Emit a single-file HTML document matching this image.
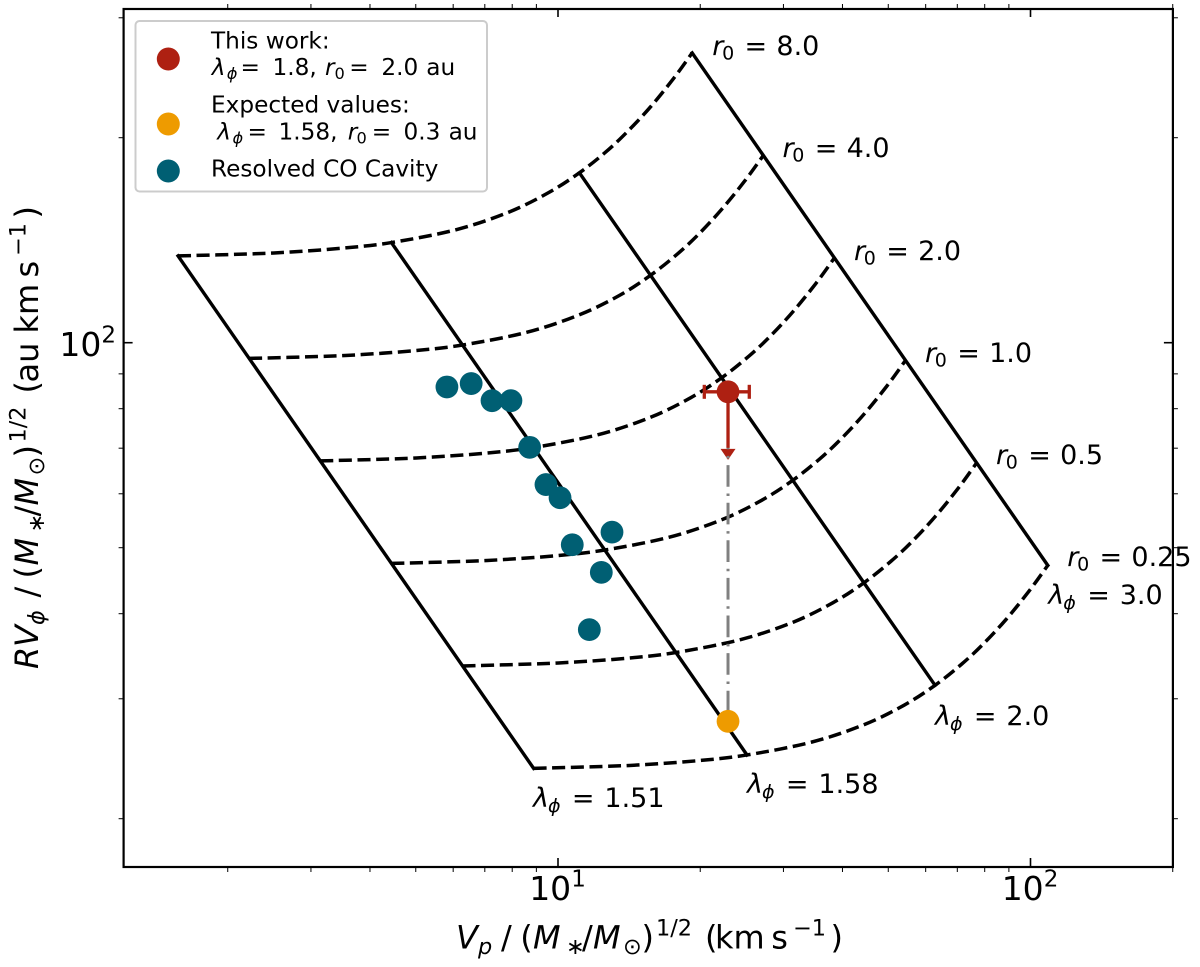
<!DOCTYPE html>
<html lang="en">
<head>
<meta charset="utf-8">
<title>Wind launching diagram</title>
<style>
html,body{margin:0;padding:0;background:#fff;}
svg{display:block;font-family:"DejaVu Sans","Liberation Sans",sans-serif;fill:#000;}
.i{font-style:italic;}
</style>
</head>
<body>
<svg id="chart" xmlns="http://www.w3.org/2000/svg" width="1200" height="967" viewBox="0 0 1200 967">
  <rect x="0" y="0" width="1200" height="967" fill="#fff"/>
  <g id="grid-curves"></g>
  <g id="grid-lines"></g>
  <g id="arrow-head"></g>
  <g id="link-line"></g>
  <g id="points"></g>

  <g font-size="27">
    <text y="55"><tspan class="i" x="712.3">r</tspan><tspan x="722.1" y="59.5" font-size="19">0</tspan><tspan x="744.5" y="55">=</tspan><tspan x="776.4">8.0</tspan></text>
    <text y="157"><tspan class="i" x="782.5">r</tspan><tspan x="792.3" y="161.5" font-size="19">0</tspan><tspan x="814.7" y="157">=</tspan><tspan x="846.6">4.0</tspan></text>
    <text y="260"><tspan class="i" x="854">r</tspan><tspan x="863.8" y="264.5" font-size="19">0</tspan><tspan x="886.2" y="260">=</tspan><tspan x="918.1">2.0</tspan></text>
    <text y="362"><tspan class="i" x="925">r</tspan><tspan x="934.8" y="366.5" font-size="19">0</tspan><tspan x="957.2" y="362">=</tspan><tspan x="989.1">1.0</tspan></text>
    <text y="464"><tspan class="i" x="996">r</tspan><tspan x="1005.8" y="468.5" font-size="19">0</tspan><tspan x="1028.2" y="464">=</tspan><tspan x="1060.1">0.5</tspan></text>
    <text y="566"><tspan class="i" x="1067.3">r</tspan><tspan x="1077.1" y="570.5" font-size="19">0</tspan><tspan x="1099.5" y="566">=</tspan><tspan x="1131.4">0.25</tspan></text>
    <text y="604"><tspan class="i" x="1048.3">λ</tspan><tspan class="i" x="1063.3" y="609" font-size="19">ϕ</tspan><tspan x="1087.2" y="604">=</tspan><tspan x="1119.7">3.0</tspan></text>
    <text y="725"><tspan class="i" x="935">λ</tspan><tspan class="i" x="950" y="730" font-size="19">ϕ</tspan><tspan x="973.9" y="725">=</tspan><tspan x="1006.4">2.0</tspan></text>
    <text y="793"><tspan class="i" x="747">λ</tspan><tspan class="i" x="762" y="798" font-size="19">ϕ</tspan><tspan x="785.9" y="793">=</tspan><tspan x="818.4">1.58</tspan></text>
    <text y="807"><tspan class="i" x="533">λ</tspan><tspan class="i" x="548" y="812" font-size="19">ϕ</tspan><tspan x="571.9" y="807">=</tspan><tspan x="604.4">1.51</tspan></text>
  </g>

  <g id="axes"></g>
  <rect x="123.6" y="9" width="1049.3" height="858" fill="none" stroke="#000" stroke-width="2.2"/>

  <text font-size="32" y="948.3"><tspan class="i" x="456">V</tspan><tspan class="i" x="478" y="954" font-size="22.4">p</tspan><tspan x="501" y="948.3">/</tspan><tspan x="520.3">(</tspan><tspan class="i" x="533">M</tspan><tspan x="566" y="954" font-size="22.4">∗</tspan><tspan x="582" y="948.3">/</tspan><tspan class="i" x="593">M</tspan><tspan x="623" y="954" font-size="22.4">⊙</tspan><tspan x="641.5" y="948.3">)</tspan><tspan x="656" y="935.7" font-size="22.4">1/2</tspan><tspan x="705" y="948.3">(</tspan><tspan x="715">km</tspan><tspan x="771.3">s</tspan><tspan x="793" y="935.7" font-size="22.4">−1</tspan><tspan x="830.5" y="948.3">)</tspan></text>
  <text font-size="32" transform="translate(38,669) rotate(-90)" y="0"><tspan class="i" x="0">R</tspan><tspan class="i" x="22">V</tspan><tspan class="i" x="44" y="6" font-size="22.4">ϕ</tspan><tspan x="71.5" y="0">/</tspan><tspan x="90.5">(</tspan><tspan class="i" x="103.5">M</tspan><tspan x="136.5" y="6" font-size="22.4">∗</tspan><tspan x="152.5" y="0">/</tspan><tspan class="i" x="163.5">M</tspan><tspan x="193.5" y="6" font-size="22.4">⊙</tspan><tspan x="211.5" y="0">)</tspan><tspan x="226.5" y="-12.6" font-size="22.4">1/2</tspan><tspan x="275.5" y="0">(</tspan><tspan x="286.5">au</tspan><tspan x="335.5">km</tspan><tspan x="391.5">s</tspan><tspan x="413" y="-12.6" font-size="22.4">−1</tspan><tspan x="450.5" y="0">)</tspan></text>

  <g>
    <rect x="135.5" y="21" width="351.5" height="170.5" rx="4" ry="4" fill="#fff" fill-opacity="0.8" stroke="#ccc" stroke-width="2"/>
    <circle cx="168.3" cy="59" r="11.5" fill="#ae2012"/>
    <circle cx="168.3" cy="124" r="11.5" fill="#ee9b00"/>
    <circle cx="168.3" cy="171" r="11.5" fill="#005f73"/>
    <g font-size="23.2">
      <text x="211" y="48.3">This work:</text>
      <text y="75"><tspan class="i" x="211.7">λ</tspan><tspan class="i" x="226.7" y="79" font-size="16.2">ϕ</tspan><tspan x="240.5" y="75">=</tspan><tspan x="272.5">1.8,</tspan><tspan class="i" x="325">r</tspan><tspan x="334.5" y="79" font-size="16.2">0</tspan><tspan x="349.2" y="75">=</tspan><tspan x="381.4">2.0</tspan><tspan x="426.3">au</tspan></text>
      <text x="211" y="112.3">Expected values:</text>
      <text y="139.3"><tspan class="i" x="217.3">λ</tspan><tspan class="i" x="232.5" y="143.3" font-size="16.2">ϕ</tspan><tspan x="247.5" y="139.3">=</tspan><tspan x="278.5">1.58,</tspan><tspan class="i" x="347.7">r</tspan><tspan x="356.5" y="143.3" font-size="16.2">0</tspan><tspan x="371.8" y="139.3">=</tspan><tspan x="403.5">0.3</tspan><tspan x="448.6">au</tspan></text>
      <text x="211" y="176.7">Resolved CO Cavity</text>
    </g>
  </g>
</svg>
<script>
// ---- axis tick data ----
const xMajorTicks = [10, 100];
const xMinorTicks = [2, 3, 4, 5, 6, 7, 8, 9, 20, 30, 40, 50, 60, 70, 80, 90, 200];
const yMajorTicks = [100];
const yMinorTicks = [20, 30, 40, 50, 60, 70, 80, 90, 200, 300];
const xTickExponents = ['1', '2'];
const yTickExponents = ['2'];

// ---- dashed constant-radius curves (Vp, R*Vphi) read along lambda ----
const r025Vp = [8.88, 12.56, 15.38, 19.86, 25.12, 34.40, 44.40, 54.02, 62.80, 71.60, 79.44, 88.82, 99.30, 108.78];
const r025Rv = [23.71, 23.87, 24.02, 24.34, 24.81, 25.91, 27.48, 29.36, 31.40, 33.76, 36.11, 39.25, 43.18, 47.10];
const r05Vp = [6.28, 8.88, 10.88, 14.04, 17.76, 24.32, 31.40, 38.20, 44.41, 50.63, 56.17, 62.80, 70.22, 76.92];
const r05Rv = [33.52, 33.75, 33.97, 34.41, 35.08, 36.64, 38.85, 41.52, 44.41, 47.74, 51.07, 55.51, 61.06, 66.61];
const r1Vp = [4.44, 6.28, 7.69, 9.93, 12.56, 17.20, 22.20, 27.01, 31.40, 35.80, 39.72, 44.41, 49.65, 54.39];
const r1Rv = [47.41, 47.73, 48.04, 48.67, 49.61, 51.81, 54.95, 58.72, 62.80, 67.51, 72.22, 78.50, 86.35, 94.20];
const r2Vp = [3.14, 4.44, 5.44, 7.02, 8.88, 12.16, 15.70, 19.10, 22.20, 25.31, 28.09, 31.40, 35.11, 38.46];
const r2Rv = [67.05, 67.50, 67.94, 68.83, 70.16, 73.27, 77.71, 83.04, 88.81, 95.47, 102.1, 111.0, 122.1, 133.2];
const r4Vp = [2.22, 3.14, 3.85, 4.97, 6.28, 8.60, 11.10, 13.51, 15.70, 17.90, 19.86, 22.21, 24.83, 27.20];
const r4Rv = [94.82, 95.46, 96.08, 97.34, 99.22, 103.6, 109.9, 117.4, 125.6, 135.0, 144.4, 157.0, 172.7, 188.4];
const r8Vp = [1.57, 2.22, 2.72, 3.51, 4.44, 6.08, 7.85, 9.55, 11.10, 12.66, 14.04, 15.70, 17.55, 19.23];
const r8Rv = [134.1, 135.0, 135.9, 137.7, 140.3, 146.5, 155.4, 166.1, 177.6, 190.9, 204.3, 222.0, 244.2, 266.4];

// ---- solid constant-lambda lines (r0 = 8 end, r0 = 0.25 end) ----
const lambda151Vp = [1.57, 8.88];
const lambda151Rv = [134.1, 23.71];
const lambda158Vp = [4.44, 25.12];
const lambda158Rv = [140.3, 24.81];
const lambda200Vp = [11.10, 62.80];
const lambda200Rv = [177.6, 31.40];
const lambda300Vp = [19.23, 108.78];
const lambda300Rv = [266.4, 47.10];

// ---- resolved CO cavity sample ----
const cavityVp = [5.82, 6.55, 7.25, 7.95, 8.71, 9.43, 10.10, 13.01, 10.72, 12.35, 11.65];
const cavityRv = [86.1, 87.1, 82.2, 82.2, 70.2, 61.9, 59.2, 52.7, 50.5, 46.0, 37.9];

// ---- this work and expected values ----
const thisWorkVp = 22.9;
const thisWorkRv = 84.7;
const thisWorkVpLow = 20.4;
const thisWorkVpHigh = 25.4;
const thisWorkRvLimit = 67.3;
const expectedVp = 22.9;
const expectedRv = 27.8;

const NS = 'http://www.w3.org/2000/svg';
const xScale = v => 558 + 472.5 * (Math.log10(v) - 1);
const yScale = v => 342.7 - 681 * (Math.log10(v) - 2);
const frame = {left: 123.6, right: 1172.9, top: 9, bottom: 867};

function mk(tag, parent) {
  const el = document.createElementNS(NS, tag);
  parent.appendChild(el);
  return el;
}
function set(el, attrs) {
  for (const k in attrs) el.setAttribute(k, attrs[k]);
  return el;
}
function toPoints(xs, ys) {
  return xs.map((v, i) => xScale(v).toFixed(2) + ',' + yScale(ys[i]).toFixed(2)).join(' ');
}
// smooth path through the read points (Catmull-Rom to Bezier)
function toSmoothPath(xs, ys) {
  const p = xs.map((v, i) => [xScale(v), yScale(ys[i])]);
  let d = 'M' + p[0][0].toFixed(2) + ' ' + p[0][1].toFixed(2);
  for (let i = 0; i < p.length - 1; i++) {
    const a = p[Math.max(i - 1, 0)];
    const b = p[i];
    const c = p[i + 1];
    const e = p[Math.min(i + 2, p.length - 1)];
    const t1 = [b[0] + (c[0] - a[0]) / 6, b[1] + (c[1] - a[1]) / 6];
    const t2 = [c[0] - (e[0] - b[0]) / 6, c[1] - (e[1] - b[1]) / 6];
    d += ' C' + t1[0].toFixed(2) + ' ' + t1[1].toFixed(2) + ' ' + t2[0].toFixed(2) + ' ' + t2[1].toFixed(2) + ' ' + c[0].toFixed(2) + ' ' + c[1].toFixed(2);
  }
  return d;
}
function tickLine(x1, y1, x2, y2, w) {
  const el = mk('line', document.getElementById('axes'));
  set(el, {x1: x1, y1: y1, x2: x2, y2: y2, stroke: '#000', 'stroke-width': w});
  
  
}
function majorLabel(x, y, exponent) {
  const t = mk('text', document.getElementById('axes'));
  set(t, {x: x, y: y, 'font-size': 33});
  
  
  const a = mk('tspan', t);
  a.textContent = '10';
  const b = mk('tspan', t);
  set(b, {dy: -13.3, 'font-size': 23});
  b.textContent = exponent;
}

// axes ticks
xMajorTicks.forEach((v, i) => {
  const x = xScale(v);
  tickLine(x, frame.bottom, x, frame.bottom - 9, 1.6);
  tickLine(x, frame.top, x, frame.top + 8, 1.6);
  majorLabel(x - 28.8, 900, xTickExponents[i]);
});
xMinorTicks.forEach(v => {
  const x = xScale(v);
  tickLine(x, frame.bottom, x, frame.bottom + 5, 1);
  tickLine(x, frame.top, x, frame.top - 5, 1);
});
yMajorTicks.forEach((v, i) => {
  const y = yScale(v);
  tickLine(frame.left, y, frame.left + 9, y, 1.6);
  tickLine(frame.right, y, frame.right - 9, y, 1.6);
  majorLabel(59.4, y + 13.3, yTickExponents[i]);
});
yMinorTicks.forEach(v => {
  const y = yScale(v);
  tickLine(frame.left, y, frame.left - 5, y, 1);
  tickLine(frame.right, y, frame.right + 5, y, 1);
});

// dashed radius curves
const curveHost = document.getElementById('grid-curves');
[[r025Vp, r025Rv], [r05Vp, r05Rv], [r1Vp, r1Rv], [r2Vp, r2Rv], [r4Vp, r4Rv], [r8Vp, r8Rv]].forEach(c => {
  const el = mk('path', curveHost);
  set(el, {d: toSmoothPath(c[0], c[1]), fill: 'none', stroke: '#000', 'stroke-width': 3.5, 'stroke-dasharray': '13 5.6'});
  
  
});

// solid lambda lines
const lineHost = document.getElementById('grid-lines');
[[lambda151Vp, lambda151Rv], [lambda158Vp, lambda158Rv], [lambda200Vp, lambda200Rv], [lambda300Vp, lambda300Rv]].forEach(c => {
  const el = mk('polyline', lineHost);
  set(el, {points: toPoints(c[0], c[1]), fill: 'none', stroke: '#000', 'stroke-width': 3.4, 'stroke-linecap': 'square'});
  
  
});

// arrow head of the upper limit
const cx = xScale(thisWorkVp);
const cy = yScale(thisWorkRv);
const tip = yScale(thisWorkRvLimit);
const head = mk('polygon', document.getElementById('arrow-head'));
set(head, {points: (cx - 7.5) + ',' + (tip - 11) + ' ' + (cx + 7.5) + ',' + (tip - 11) + ' ' + cx + ',' + tip, fill: '#ae2012'});



// gray dash-dot connection
const link = mk('line', document.getElementById('link-line'));
set(link, {x1: cx, y1: cy, x2: xScale(expectedVp), y2: yScale(expectedRv), stroke: '#808080', 'stroke-width': 3, 'stroke-dasharray': '21.7 6.7 2.5 6.7', 'stroke-dashoffset': 1.9});



// data points
const pointHost = document.getElementById('points');
cavityVp.forEach((v, i) => {
  const el = mk('circle', pointHost);
  set(el, {cx: xScale(v), cy: yScale(cavityRv[i]), r: 11.4, fill: '#005f73'});
  
  
});

const stem = mk('line', pointHost);
set(stem, {x1: cx, y1: cy, x2: cx, y2: tip - 12, stroke: '#ae2012', 'stroke-width': 3.3});



const xLow = xScale(thisWorkVpLow);
const xHigh = xScale(thisWorkVpHigh);
const xErr = mk('line', pointHost);
set(xErr, {x1: xLow, y1: cy, x2: xHigh, y2: cy, stroke: '#ae2012', 'stroke-width': 3.3});



[xLow, xHigh].forEach(x => {
  const cap = mk('line', pointHost);
  set(cap, {x1: x, y1: cy - 7, x2: x, y2: cy + 7, stroke: '#ae2012', 'stroke-width': 3.3});
  
  
});

const red = mk('circle', pointHost);
set(red, {cx: cx, cy: cy, r: 11.4, fill: '#ae2012'});



const orange = mk('circle', pointHost);
set(orange, {cx: xScale(expectedVp), cy: yScale(expectedRv), r: 11.4, fill: '#ee9b00'});


</script>
</body>
</html>
